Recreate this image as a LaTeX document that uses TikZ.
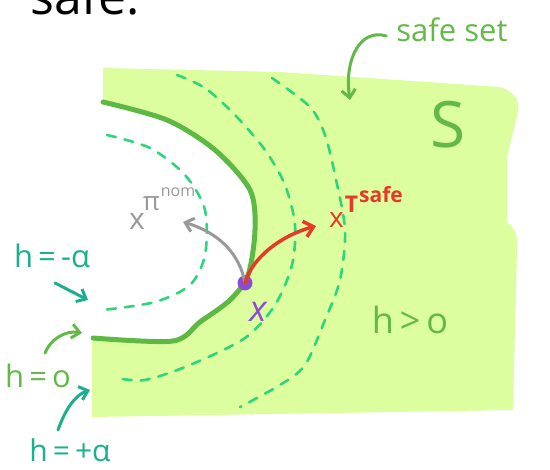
\documentclass[tikz,border=0pt]{standalone}
\usepackage{fontspec}
\setmainfont{Open Sans}
\usetikzlibrary{arrows.meta}
\definecolor{fillg}{HTML}{DCFE9E}
\definecolor{boundg}{HTML}{5DB844}
\definecolor{dashg}{HTML}{2ED67B}
\definecolor{tealg}{HTML}{1BAF8E}
\definecolor{lblg}{HTML}{63B948}
\definecolor{purp}{HTML}{8A4FD0}
\definecolor{redx}{HTML}{E8382A}
\definecolor{grayx}{HTML}{999999}
\tikzset{
  levelset/.style={dashg, line width=2.6pt, line cap=round, dash pattern=on 9pt off 9pt},
  boundary/.style={boundg, line width=5pt, line cap=round},
  handarrow/.style={line width=3.5pt, line cap=round, -{Straight Barb[length=9pt,width=16pt,line width=3.5pt]}},
  thinarrow/.style={line width=3pt, line cap=round, -{Straight Barb[length=8pt,width=14pt,line width=3pt]}},
  lbl/.style={inner sep=0pt, font=\fontsize{22}{22}\selectfont}
}
\begin{document}
\begin{tikzpicture}[x=1pt,y=-1pt]
\useasboundingbox (0,0) rectangle (550,470);
% safe set region with the unsafe cut-out
\fill[fillg] (103,68) -- (280,72) -- (500,87) .. controls (515,92) and (520,100) .. (518,112)
  -- (507,157) -- (507,223) .. controls (517,228) and (518,240) .. (517,250)
  -- (513,410) -- (92,417) -- (92,338)
  -- plot[smooth] coordinates {(93,338) (173,341) (200,322) (230,300) (248,275) (255,230) (250,190) (215,150) (167,120) (103,102)}
  -- cycle;
% level sets
\draw[levelset] plot[smooth] coordinates {(107,135) (150,148) (185,175) (205,210) (205,255) (190,285) (155,302) (103,310)};
\draw[levelset] plot[smooth] coordinates {(177,75) (205,88) (235,115) (265,150) (285,185) (295,225) (292,265) (275,305) (245,338) (190,365) (145,380) (117,378)};
\draw[levelset] plot[smooth] coordinates {(272,78) (310,107) (325,135) (335,175) (345,230) (340,280) (325,320) (305,365) (280,385) (240,407)};
% boundary h=0
\draw[boundary] plot[smooth] coordinates {(93,338) (173,341) (200,322) (230,300) (248,275) (255,230) (250,190) (215,150) (167,120) (103,102)};
% state
\node[circle, fill=purp, minimum size=15pt, inner sep=0pt] (x) at (245,283) {};
\node[lbl, text=purp, font=\fontsize{36}{36}\selectfont\itshape] (xl) at (258,312) {x};
% nominal
\node[text=grayx, inner sep=0pt, anchor=base west] (xnom) at (129,230) {\fontsize{30}{30}\selectfont x\hspace{-2pt}\raisebox{19pt}{\fontsize{26}{26}\selectfont π}\hspace{1pt}\raisebox{33pt}{\fontsize{16}{16}\selectfont nom}};
\coordinate (nomtip) at (183,222);
\draw[thinarrow, grayx] (x.center) .. controls (240,255) and (220,233) .. (nomtip);
% safe
\node[text=redx, inner sep=0pt, anchor=base west] (xsafe) at (329,228) {\fontsize{28}{28}\selectfont x\hspace{1pt}\raisebox{15pt}{\fontsize{23}{23}\selectfont\bfseries T}\hspace{1pt}\raisebox{25pt}{\fontsize{21}{21}\selectfont\bfseries safe}};
\coordinate (safetip) at (316,226);
\draw[handarrow, redx] (x.center) .. controls (252,258) and (280,236) .. (safetip);
% safe set label
\node[lbl, text=lblg, font=\fontsize{31}{31}\selectfont] (ss) at (452,30) {safe set};
\coordinate (sstip) at (350,100);
\draw[thinarrow, lblg] (ss.west) ++(-10,6) .. controls (360,28) and (344,60) .. (sstip);
\node[lbl, text=lblg, font=\fontsize{64}{64}\selectfont] (S) at (448,125) {S};
\node[lbl, text=lblg, font=\fontsize{36}{36}\selectfont] (hpos) at (410,320) {h\,>\,o};
% left labels
\node[lbl, text=tealg, font=\fontsize{31}{31}\selectfont] (hm) at (52,256) {h\,=\,-α};
\coordinate (hmtip) at (88,300);
\draw[thinarrow, tealg] (55,283) -- (hmtip);
\node[lbl, text=lblg, font=\fontsize{31}{31}\selectfont] (h0) at (38,376) {h\,=\,o};
\coordinate (h0tip) at (82,333);
\draw[thinarrow, lblg] (45,353) .. controls (50,340) and (65,330) .. (h0tip);
\node[lbl, text=tealg, font=\fontsize{30}{30}\selectfont] (hp) at (70,450) {h\,=\,+α};
\coordinate (hptip) at (90,390);
\draw[thinarrow, tealg] (58,430) .. controls (65,410) and (75,395) .. (hptip);
% top title (cut off at the top edge, as in the reference)
\node[anchor=base west, inner sep=0pt, font=\fontsize{50}{50}\selectfont] (title) at (30,15) {safe:};
\end{tikzpicture}
\end{document}
